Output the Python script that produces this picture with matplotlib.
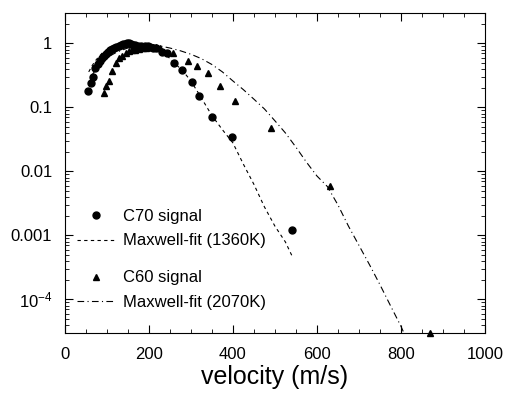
import matplotlib
matplotlib.use("Agg")
import matplotlib.pyplot as plt
from matplotlib.ticker import MultipleLocator, LogLocator, FixedLocator, FixedFormatter, NullFormatter

plt.rcParams['font.family'] = ['Liberation Sans', 'DejaVu Sans']
plt.rcParams['mathtext.fontset'] = 'custom'
plt.rcParams['mathtext.rm'] = 'Liberation Sans'
plt.rcParams['mathtext.default'] = 'regular'

# C70 meetepunkter
c70_v = [55, 62, 67, 73, 78, 83, 88, 93, 98, 103, 108, 113, 118, 123, 128, 133, 138,
         143, 148, 153, 158, 163, 168, 175, 182, 190, 197, 204, 210, 216, 231, 243,
         260, 279, 303, 319, 350, 398, 540]
c70_y = [0.18, 0.24, 0.30, 0.41, 0.47, 0.53, 0.59, 0.64, 0.69, 0.74, 0.78, 0.82, 0.86,
         0.89, 0.92, 0.95, 0.97, 0.98, 1.0, 1.0, 0.98, 0.96, 0.95, 0.93, 0.92, 0.91,
         0.90, 0.88, 0.86, 0.84, 0.74, 0.70, 0.49, 0.38, 0.25, 0.15, 0.072, 0.035, 0.0012]

# C60 meetepunkter
c60_v = [93, 98, 105, 112, 121, 129, 136, 145, 152, 160, 168, 176, 185, 193, 200, 210,
         218, 226, 257, 293, 314, 340, 369, 405, 490, 631, 869]
c60_y = [0.17, 0.22, 0.26, 0.37, 0.49, 0.59, 0.63, 0.70, 0.75, 0.78, 0.80, 0.83, 0.85,
         0.86, 0.87, 0.87, 0.88, 0.85, 0.70, 0.53, 0.44, 0.34, 0.22, 0.127, 0.047, 0.006, 3.0e-5]

# Maxwell-tilpasning 1360K
fit1_v = [57, 65, 75, 90, 110, 130, 150, 175, 200, 220, 240, 260, 280, 300, 320, 350,
          375, 400, 425, 450, 475, 500, 525, 540]
fit1_y = [0.36, 0.45, 0.56, 0.72, 0.87, 0.96, 1.0, 0.98, 0.92, 0.83, 0.68, 0.50, 0.38,
          0.26, 0.16, 0.075, 0.045, 0.028, 0.013, 0.0063, 0.0028, 0.0014, 7.9e-4, 4.9e-4]

# Maxwell-tilpasning 2070K
fit2_v = [62, 80, 100, 125, 150, 175, 200, 225, 250, 275, 300, 325, 350, 375, 400, 425,
          450, 475, 500, 525, 550, 575, 600, 625, 650, 675, 700, 725, 750, 775, 800, 810]
fit2_y = [0.30, 0.45, 0.60, 0.74, 0.85, 0.92, 0.95, 0.92, 0.85, 0.77, 0.68, 0.58, 0.47,
          0.36, 0.26, 0.19, 0.135, 0.095, 0.062, 0.040, 0.024, 0.014, 0.0085, 0.0058,
          0.003, 0.0014, 7e-4, 3.5e-4, 1.7e-4, 8e-5, 3.8e-5, 2.7e-5]

y_ticks = [1e-4, 1e-3, 1e-2, 1e-1, 1]
y_labels = [r"$10^{-4}$", "0.001", "0.01", "0.1", "1"]

fig = plt.figure(figsize=(5.1, 3.93), dpi=100)
ax = fig.add_axes([0.127, 0.153, 0.824, 0.814])

h1, = ax.plot(c70_v, c70_y, 'o', color='black', markersize=5, clip_on=False)
h2, = ax.plot(fit1_v, fit1_y, color='black', lw=0.8, linestyle=(0, (3, 3)))
h3, = ax.plot(c60_v, c60_y, '^', color='black', markersize=4.5, clip_on=False)
h4, = ax.plot(fit2_v, fit2_y, color='black', lw=0.8, linestyle=(0, (6, 3, 1, 3)))

ax.set_yscale('log')
ax.set_xlim(0, 1000)
ax.set_ylim(3e-5, 3)

ax.xaxis.set_major_locator(MultipleLocator(200))
ax.xaxis.set_minor_locator(MultipleLocator(50))
ax.yaxis.set_major_locator(FixedLocator(y_ticks))
ax.yaxis.set_major_formatter(FixedFormatter(y_labels))
ax.yaxis.set_minor_locator(LogLocator(base=10, subs=range(2, 10)))
ax.yaxis.set_minor_formatter(NullFormatter())

ax.tick_params(which='both', direction='in', top=True, right=True, labelsize=12)
ax.tick_params(which='major', length=6)
ax.tick_params(which='minor', length=3)
ax.tick_params(axis='x', which='major', pad=10)
ax.tick_params(axis='y', which='major', pad=9)

ax.set_xlabel("velocity (m/s)", fontsize=18, labelpad=2)

# To legender, en for hver molekyl
leg_kw = dict(frameon=False, fontsize=12, handlelength=2.3, handletextpad=0.45,
              labelspacing=0.55, borderaxespad=0.2, loc='center left')
leg1 = ax.legend([h1, h2], ["C70 signal", "Maxwell-fit (1360K)"],
                 bbox_to_anchor=(0.005, 0.325), **leg_kw)
ax.add_artist(leg1)
ax.legend([h3, h4], ["C60 signal", "Maxwell-fit (2070K)"],
          bbox_to_anchor=(0.005, 0.134), **leg_kw)

fig.savefig("out.png", dpi=100)
